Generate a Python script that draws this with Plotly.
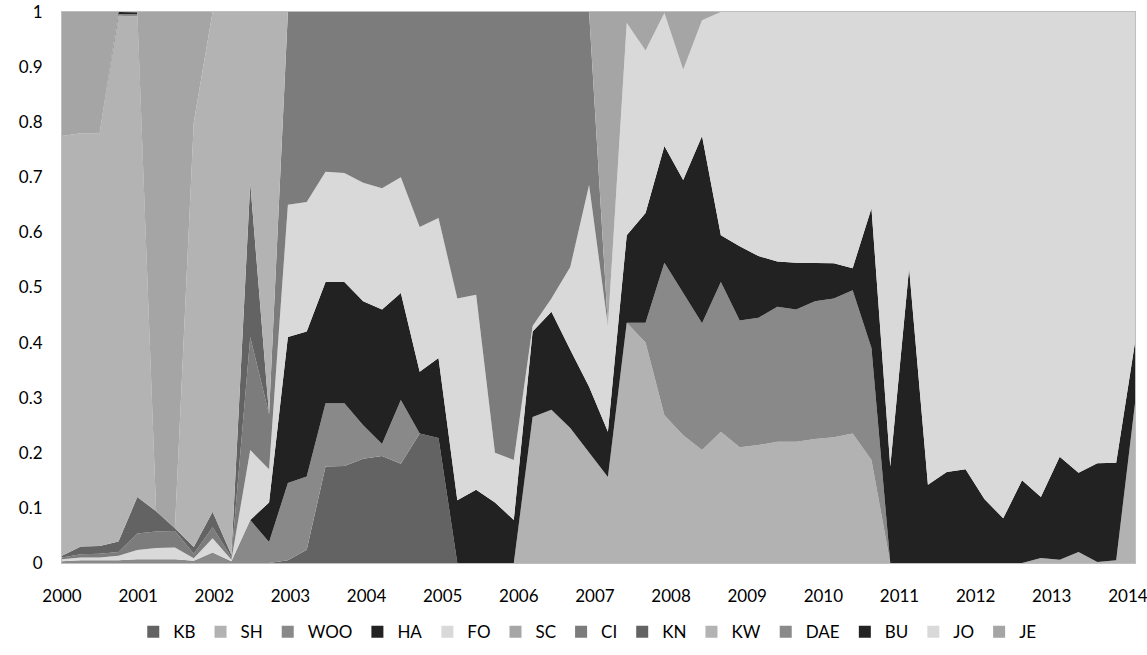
import plotly.graph_objects as go

# ---- data (share of total, 58 periods from 2000 to early 2014) ----
series_names = ["KB", "SH", "WOO", "HA", "FO", "SC", "CI", "KN", "KW", "DAE", "BU", "JO", "JE"]
colors = ["#636363", "#b2b2b2", "#898989", "#222222", "#d9d9d9", "#a6a6a6", "#7c7c7c",
          "#636363", "#b3b3b3", "#8a8a8a", "#232323", "#d9d9d9", "#a5a5a5"]

KB = [0, 0, 0, 0, 0, 0, 0, 0, 0, 0, 0, 0, 0.005, 0.024, 0.175, 0.176, 0.189, 0.194, 0.18, 0.235,
      0.227, 0, 0, 0, 0, 0, 0, 0, 0, 0, 0, 0, 0, 0, 0, 0, 0, 0, 0, 0,
      0, 0, 0, 0, 0, 0, 0, 0, 0, 0, 0, 0, 0, 0, 0, 0, 0, 0]
SH = [0, 0, 0, 0, 0, 0, 0, 0, 0, 0, 0, 0, 0, 0, 0, 0, 0, 0, 0, 0,
      0, 0, 0, 0, 0, 0.265, 0.278, 0.245, 0.2, 0.156, 0.436, 0.40, 0.268, 0.232, 0.205, 0.238, 0.21, 0.214, 0.22, 0.22,
      0.225, 0.228, 0.235, 0.187, 0, 0, 0, 0, 0, 0, 0, 0, 0.009, 0.006, 0.02, 0.002, 0.005, 0.29]
WOO = [0.003, 0.005, 0.005, 0.005, 0.0067, 0.007, 0.007, 0.004, 0.019, 0.003, 0.078, 0.038, 0.14, 0.133, 0.115, 0.114, 0.061, 0.022, 0.116, 0,
       0, 0, 0, 0, 0, 0, 0, 0, 0, 0, 0, 0.036, 0.277, 0.258, 0.23, 0.272, 0.23, 0.231, 0.245, 0.24,
       0.25, 0.252, 0.26, 0.203, 0, 0, 0, 0, 0, 0, 0, 0, 0, 0, 0, 0, 0, 0]
HA = [0, 0, 0, 0, 0, 0, 0, 0, 0, 0, 0, 0.072, 0.265, 0.263, 0.22, 0.22, 0.225, 0.244, 0.194, 0.112,
      0.145, 0.114, 0.133, 0.11, 0.078, 0.155, 0.178, 0.142, 0.12, 0.082, 0.159, 0.199, 0.212, 0.205, 0.34, 0.085, 0.135, 0.112, 0.082, 0.085,
      0.07, 0.064, 0.04, 0.254, 0.175, 0.535, 0.142, 0.165, 0.17, 0.116, 0.081, 0.15, 0.111, 0.187, 0.144, 0.179, 0.177, 0.11]
FO = [0.004, 0.005, 0.005, 0.008, 0.017, 0.02, 0.021, 0.0045, 0.026, 0.003, 0.127, 0.06, 0.24, 0.235, 0.20, 0.198, 0.215, 0.22, 0.21, 0.263,
      0.254, 0.366, 0.354, 0.09, 0.109, 0.01, 0.024, 0.15, 0.366, 0.192, 0.385, 0.295, 0.241, 0.20, 0.21, 0.405, 0.425, 0.443, 0.453, 0.455,
      0.455, 0.456, 0.465, 0.356, 0.825, 0.465, 0.858, 0.835, 0.83, 0.884, 0.919, 0.85, 0.88, 0.807, 0.836, 0.819, 0.818, 0.60]
SC = [0] * 58
CI = [0.003, 0.006, 0.007, 0.007, 0.030, 0.03, 0.03, 0.0085, 0.02, 0.004, 0.205, 0.10, 0.35, 0.345, 0.29, 0.292, 0.31, 0.32, 0.30, 0.39,
      0.374, 0.52, 0.513, 0.80, 0.813, 0.57, 0.52, 0.463, 0.314, 0, 0, 0, 0, 0, 0, 0, 0, 0, 0, 0,
      0, 0, 0, 0, 0, 0, 0, 0, 0, 0, 0, 0, 0, 0, 0, 0, 0, 0]
KN = [0.003, 0.014, 0.014, 0.019, 0.066, 0.037, 0.005, 0.012, 0.028, 0.005, 0.28] + [0] * 47
KW = [0.762, 0.75, 0.749, 0.954, 0.872, 0, 0, 0.771, 0.907, 0.985, 0.31, 0.73] + [0] * 46
DAE = [0, 0, 0, 0.003, 0.004] + [0] * 53
BU = [0, 0, 0, 0.004, 0.004] + [0] * 53
JO = [0] * 58
JE = [0.225, 0.22, 0.22, 0, 0, 0.906, 0.937, 0.20, 0, 0, 0, 0, 0, 0, 0, 0, 0, 0, 0, 0,
      0, 0, 0, 0, 0, 0, 0, 0, 0, 0.57, 0.02, 0.07, 0.002, 0.105, 0.015, 0, 0, 0, 0, 0,
      0, 0, 0, 0, 0, 0, 0, 0, 0, 0, 0, 0, 0, 0, 0, 0, 0, 0]

year_ticks = list(range(2000, 2015))
y_ticks = [0, 0.1, 0.2, 0.3, 0.4, 0.5, 0.6, 0.7, 0.8, 0.9, 1]
y_tick_text = ["0", "0.1", "0.2", "0.3", "0.4", "0.5", "0.6", "0.7", "0.8", "0.9", "1"]

# time coordinate of each period (periods are evenly spaced, ~4 per year)
n = len(KB)
period_step = 0.24725
x = [2000 + i * period_step for i in range(n)]

values = [KB, SH, WOO, HA, FO, SC, CI, KN, KW, DAE, BU, JO, JE]

fig = go.Figure()
for name, col, vals in zip(series_names, colors, values):
    fig.add_trace(go.Scatter(
        x=x, y=vals, name=name, mode="lines", stackgroup="one",
        line=dict(width=0, color=col), fillcolor=col, showlegend=False, hoverinfo="skip",
    ))
# square legend swatches
for name, col in zip(series_names, colors):
    fig.add_trace(go.Bar(x=[None], y=[None], name=name, marker=dict(color=col, line=dict(width=0)),
                         showlegend=True))

font_family = "Lato, 'Open Sans', sans-serif"
fig.update_layout(
    width=1147, height=655,
    margin=dict(l=62, r=12, t=12, b=92, autoexpand=False),
    paper_bgcolor="white", plot_bgcolor="white",
    font=dict(family=font_family, size=17, color="#000000"),
    showlegend=True,
    legend=dict(orientation="h", x=0.49, xanchor="center",
                yref="container", y=0.035, yanchor="middle",
                font=dict(size=17), itemwidth=30, traceorder="normal", tracegroupgap=0),
)
fig.update_xaxes(
    range=[2000, x[-1]], tickvals=year_ticks, ticktext=[str(v) for v in year_ticks],
    showgrid=False, zeroline=False, showline=True, linecolor="#bfbfbf", linewidth=1,
    mirror=True, ticks="", ticklabelstandoff=18, automargin=False, ticklabeloverflow="allow",
)
fig.update_yaxes(
    range=[0, 1], tickvals=y_ticks, ticktext=y_tick_text,
    showgrid=False, zeroline=False, showline=True, linecolor="#bfbfbf", linewidth=1,
    mirror=True, ticks="", ticklabelstandoff=15, automargin=False, ticklabeloverflow="allow",
)

fig.write_html(
    "out.html",
    config={"displayModeBar": False},
    post_script="document.body.style.margin='0';document.body.style.overflow='hidden';",
)
